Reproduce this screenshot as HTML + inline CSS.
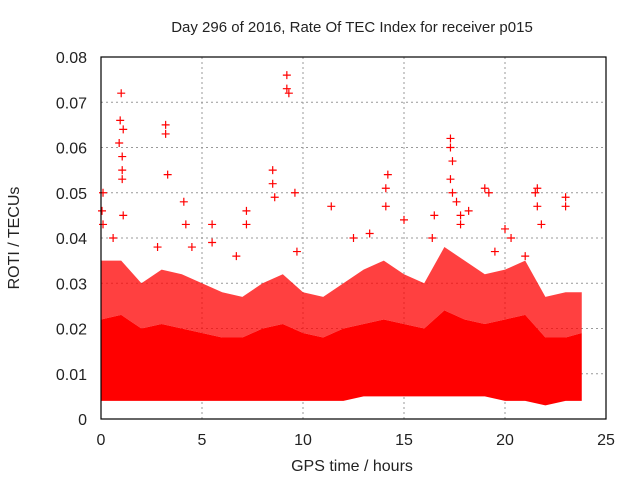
<!DOCTYPE html>
<html><head><meta charset="utf-8"><style>
body{margin:0;background:#fff;}
svg text{font-family:"Liberation Sans","DejaVu Sans",sans-serif;fill:#222;}
</style></head><body>
<svg id="chart" width="640" height="480" viewBox="0 0 640 480">
<rect width="640" height="480" fill="#fff"/>
<text x="352" y="32" font-size="15" text-anchor="middle">Day 296 of 2016, Rate Of TEC Index for receiver p015</text>
<text x="352" y="471" font-size="16" text-anchor="middle">GPS time / hours</text>
<text transform="translate(19,238) rotate(-90)" font-size="16" text-anchor="middle">ROTI / TECUs</text>
<g id="grid"></g><g id="marks"></g><g id="axes"></g>
</svg>
<script>
const xTicks=[0,5,10,15,20,25];
const yTicks=[0,0.01,0.02,0.03,0.04,0.05,0.06,0.07,0.08];
const yTickLabels=["0","0.01","0.02","0.03","0.04","0.05","0.06","0.07","0.08"];
const envHours=[0,1,2,3,4,5,6,7,8,9,10,11,12,13,14,15,16,17,18,19,20,21,22,23,23.8];
const envLow=[0.004,0.004,0.004,0.004,0.004,0.004,0.004,0.004,0.004,0.004,0.004,0.004,0.004,0.005,0.005,0.005,0.005,0.005,0.005,0.005,0.004,0.004,0.003,0.004,0.004];
const envDense=[0.022,0.023,0.02,0.021,0.02,0.019,0.018,0.018,0.02,0.021,0.019,0.018,0.02,0.021,0.022,0.021,0.02,0.024,0.022,0.021,0.022,0.023,0.018,0.018,0.019];
const envSparse=[0.035,0.035,0.03,0.033,0.032,0.03,0.028,0.027,0.03,0.032,0.028,0.027,0.03,0.033,0.035,0.032,0.03,0.038,0.035,0.032,0.033,0.035,0.027,0.028,0.028];
const outX=[1.0,0.95,1.1,0.9,1.05,1.05,1.05,3.2,3.2,3.3,9.2,9.2,9.3,8.5,8.5,8.6,9.6,0.1,0.05,1.1,4.1,4.2,5.5,5.5,7.2,7.2,11.4,12.5,14.2,14.1,14.1,15.0,16.5,17.3,17.3,17.4,17.3,17.4,17.6,17.8,19.0,19.2,18.2,21.6,21.5,21.6,21.8,23.0,23.0,20.0,20.3,0.1,0.6,2.8,4.5,6.7,9.7,13.3,17.8,16.4,19.5,21.0];
const outY=[0.072,0.066,0.064,0.061,0.058,0.055,0.053,0.065,0.063,0.054,0.076,0.073,0.072,0.055,0.052,0.049,0.050,0.050,0.046,0.045,0.048,0.043,0.043,0.039,0.046,0.043,0.047,0.040,0.054,0.051,0.047,0.044,0.045,0.062,0.060,0.057,0.053,0.050,0.048,0.045,0.051,0.050,0.046,0.051,0.050,0.047,0.043,0.049,0.047,0.042,0.040,0.043,0.040,0.038,0.038,0.036,0.037,0.041,0.043,0.040,0.037,0.036];
const X0=101,X1=606,Y0=419,Y1=57;
const sx=v=>X0+(v/25)*(X1-X0), sy=v=>Y0-(v/0.08)*(Y0-Y1);
const NS="http://www.w3.org/2000/svg";
function mk(tag,parent,attrs){const e=document.createElementNS(NS,tag);for(const k in attrs)e.setAttribute(k,attrs[k]);parent.appendChild(e);return e;}
const grid=document.getElementById('grid'),marks=document.getElementById('marks'),axes=document.getElementById('axes');
xTicks.forEach((t,i)=>{
  if(i>0&&i<xTicks.length-1){const g=mk('line',grid,{x1:sx(t),x2:sx(t),y1:Y0,y2:Y1,stroke:'#999','stroke-dasharray':'2,3'});
  
  }
  const tx=mk('text',axes,{x:sx(t),y:Y0+26,'font-size':16,'text-anchor':'middle'});tx.textContent=t;
  
  
});
yTicks.forEach((t,i)=>{
  if(i>0&&i<yTicks.length-1){const g=mk('line',grid,{x1:X0,x2:X1,y1:sy(t),y2:sy(t),stroke:'#999','stroke-dasharray':'2,3'});
  
  }
  const tx=mk('text',axes,{x:X0-14,y:sy(t)+6,'font-size':16,'text-anchor':'end'});tx.textContent=yTickLabels[i];
  
  
});
function band(top,bot,fill,op,name){
  let d='M'+envHours.map((h,i)=>sx(h)+','+sy(top[i])).join(' L');
  for(let i=envHours.length-1;i>=0;i--)d+=' L'+sx(envHours[i])+','+sy(bot[i]);
  const p=mk('path',marks,{d:d+'Z',fill:fill,'fill-opacity':op});
  
  
}
band(envSparse,envDense,'#f00',0.75,'roti-sparse-band');
band(envDense,envLow,'#f00',1,'roti-dense-band');
outX.forEach((x,i)=>{
  const px=sx(x),py=sy(outY[i]);
  const p=mk('path',marks,{d:`M${px-4},${py}h8M${px},${py-4}v8`,stroke:'#f00','stroke-width':1.2});
  
  
});
const f=mk('rect',axes,{x:X0,y:Y1,width:X1-X0,height:Y0-Y1,fill:'none',stroke:'#000','stroke-width':1.2});


</script>
</body></html>
